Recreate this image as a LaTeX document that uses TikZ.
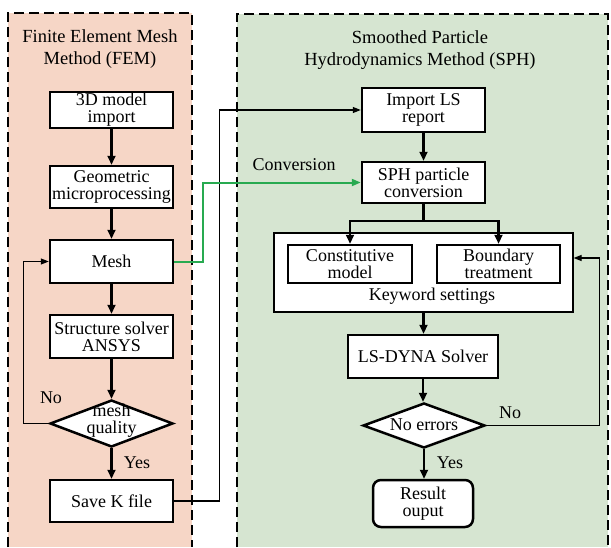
\documentclass[tikz,border=0pt]{standalone}
\usepackage{fontspec}
\setmainfont{Liberation Serif}
\usetikzlibrary{shapes.geometric,arrows.meta,calc}
\definecolor{fembg}{RGB}{246,214,198}
\definecolor{sphbg}{RGB}{214,229,209}
\definecolor{convgreen}{RGB}{40,170,80}
\begin{document}
\begin{tikzpicture}[x=1pt,y=-1pt,
  boxfont/.style={font=\fontsize{18}{17}\selectfont},
  titlefont/.style={font=\fontsize{18.5}{22}\selectfont},
  pbox/.style={draw,line width=2.5pt,fill=white,align=center,inner sep=0pt,boxfont},
  dia/.style={shape=diamond,draw,line width=2.5pt,fill=white,inner sep=0pt},
  flow/.style={line width=2.2pt,-{Triangle[length=9pt,width=8pt]}},
  thinflow/.style={line width=1.2pt,-{Triangle[length=8pt,width=6pt]}},
  panel/.style={line width=2pt,dash pattern=on 10pt off 5pt},
  lbl/.style={boxfont,inner sep=0pt,align=center}]

\useasboundingbox (0,0) rectangle (611,547);
\fill[fembg] (8,13) rectangle (192,547);
\fill[sphbg] (237,14) rectangle (608,547);
\draw[panel] (8,547) -- (8,13) -- (192,13) -- (192,547);
\draw[panel] (237,547) -- (237,14) -- (608,14) -- (608,547);

% titles
\node[titlefont,align=center,inner sep=0pt] (tfem) at (100,49) {Finite Element Mesh\\Method (FEM)};
\node[titlefont,align=center,inner sep=0pt] (tsph) at (420,50) {Smoothed Particle\\Hydrodynamics Method (SPH)};

% FEM column
\node[pbox,minimum width=123pt,minimum height=36pt] (a1) at (111.5,110) {3D model\\import};
\node[pbox,minimum width=123pt,minimum height=42pt] (a2) at (111.5,187) {Geometric\\microprocessing};
\node[pbox,minimum width=123pt,minimum height=43pt] (mesh) at (111.5,261.5) {Mesh};
\node[pbox,minimum width=123pt,minimum height=43pt] (ans) at (111.5,336.5) {Structure solver\\ANSYS};
\node[dia,minimum width=123pt,minimum height=47pt] (q) at (111.5,423.5) {};
\node[lbl] (qt) at (111.5,421) {mesh\\quality};
\node[pbox,minimum width=123pt,minimum height=42pt] (save) at (111.5,501) {Save K file};

\draw[flow] (a1) -- (a2);
\draw[flow] (a2) -- (mesh);
\draw[flow] (mesh) -- (ans);
\draw[flow] (ans) -- (q.north);
\draw[flow] (q.south) -- (save);
\draw[thinflow] (q.west) -- ++(-25,0) |- (mesh.west);
\node[lbl] (no1) at (51,398) {No};
\node[lbl] (yes1) at (137,463) {Yes};

% SPH column
\node[pbox,minimum width=123pt,minimum height=44pt] (imp) at (423.5,110) {Import LS\\report};
\node[pbox,minimum width=123pt,minimum height=41pt] (sph) at (423.5,182.5) {SPH particle\\conversion};
\node[draw,line width=1.2pt,fill=white,minimum width=299pt,minimum height=79pt,inner sep=0pt] (kw) at (423.5,272.5) {};
\node[pbox,minimum width=124pt,minimum height=38pt] (con) at (350,264) {Constitutive\\model};
\node[pbox,minimum width=123pt,minimum height=38pt] (bnd) at (498.5,264) {Boundary\\treatment};
\node[lbl] (kwt) at (432,296) {Keyword settings};
\node[pbox,minimum width=150pt,minimum height=43pt] (lsd) at (423,356.5) {LS-DYNA Solver};
\node[dia,minimum width=122pt,minimum height=45pt] (ne) at (424,425.5) {};
\node[lbl] (net) at (424,425) {No errors};
\node[pbox,rounded corners=8pt,minimum width=100pt,minimum height=47pt] (res) at (423,503.5) {Result\\ouput};

\draw[flow] (imp) -- (sph);
\draw[line width=2.2pt] (sph.south) -- ++(0,17) coordinate (sp);
\draw[flow] (sp) -| (con.north);
\draw[flow] (sp) -| (bnd.north);
\draw[flow] (kw.south) -- (kw.south |- lsd.north);
\draw[flow] (lsd.south) -- (lsd.south |- ne.north);
\draw[flow] (ne.south) -- (ne.south |- res.north);
\draw[thinflow] (ne.east) -- ++(113,0) |- ($(kw.east)+(0,-14.5)$);
\node[lbl] (no2) at (510,413) {No};
\node[lbl] (yes2) at (450,463) {Yes};

% cross-panel connectors
\draw[thinflow] (save.east) -- ++(45,0) |- (imp.west);
\draw[line width=2pt,convgreen,-{Triangle[length=9pt,width=7pt]}] (mesh.east) -- ++(29,0) |- (sph.west);
\node[lbl] (conv) at (294,165) {Conversion};
\end{tikzpicture}
\end{document}
